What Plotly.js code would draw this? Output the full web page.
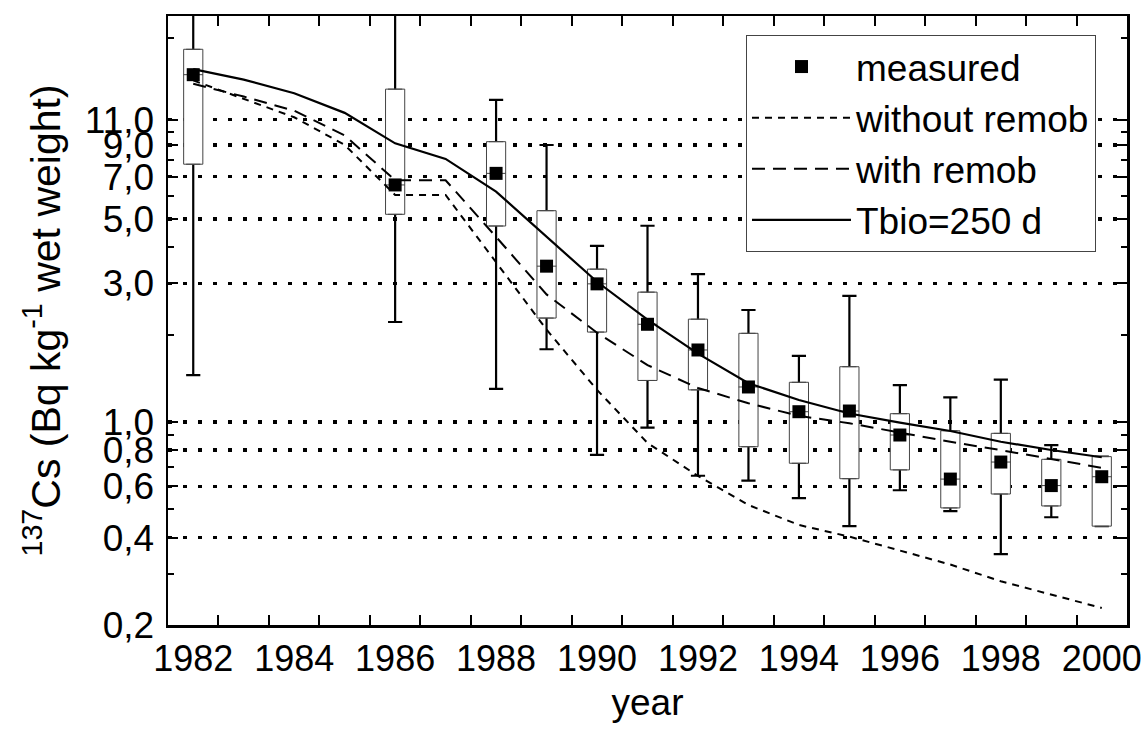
<!DOCTYPE html>
<html>
<head>
<meta charset="utf-8">
<script src="https://cdn.plot.ly/plotly-3.0.1.min.js"></script>
<style>html,body{margin:0;padding:0;background:#fff}</style>
</head>
<body>
<div id="chart" style="width:1146px;height:733px"></div>
<script>
// Sampling years with box statistics
const boxYears = [1982, 1986, 1988, 1989, 1990, 1991, 1992, 1993, 1994, 1995, 1996, 1997, 1998, 1999, 2000];
// measured value (square marker)
const measured = [15.7, 6.55, 7.18, 3.44, 2.99, 2.17, 1.77, 1.32, 1.085, 1.091, 0.902, 0.636, 0.728, 0.604, 0.648];
const boxUpper = [19.2, 14.0, 9.23, 5.34, 3.36, 2.80, 2.26, 2.02, 1.37, 1.55, 1.068, 0.933, 0.914, 0.744, 0.76];
const boxLower = [7.72, 5.19, 4.73, 2.28, 2.04, 1.39, 1.29, 0.822, 0.721, 0.638, 0.684, 0.506, 0.565, 0.514, 0.438];
const whiskerHigh = [32, 30, 12.85, 8.99, 4.04, 4.74, 3.23, 2.43, 1.69, 2.72, 1.34, 1.216, 1.40, 0.833, 0.76];
const whiskerLow = [1.45, 2.21, 1.30, 1.78, 0.77, 0.956, 0.653, 0.628, 0.547, 0.438, 0.582, 0.493, 0.351, 0.470, 0.438];

// Model curves, one value per year
const modelYears = [1982, 1983, 1984, 1985, 1986, 1987, 1988, 1989, 1990, 1991, 1992, 1993, 1994, 1995, 1996, 1997, 1998, 1999, 2000];
const withoutRemob = [15.0, 13.0, 11.2, 9.0, 6.05, 6.05, 3.56, 2.08, 1.29, 0.847, 0.652, 0.518, 0.442, 0.403, 0.361, 0.323, 0.283, 0.255, 0.229];
const withRemob = [14.6, 13.2, 11.8, 9.7, 6.8, 6.8, 4.34, 2.75, 2.03, 1.57, 1.31, 1.16, 1.05, 0.99, 0.92, 0.855, 0.80, 0.745, 0.695];
const tbio250 = [16.4, 15.1, 13.55, 11.6, 9.11, 8.05, 6.21, 4.35, 3.04, 2.25, 1.72, 1.36, 1.19, 1.07, 0.995, 0.931, 0.855, 0.801, 0.756];

// Axis ticks
const xLabelYears = [1982, 1984, 1986, 1988, 1990, 1992, 1994, 1996, 1998, 2000];
const xTickMarks = [1982.5, 1983.5, 1984.5, 1985.5, 1986.5, 1987.5, 1988.5, 1989.5, 1990.5, 1991.5, 1992.5, 1993.5, 1994.5, 1995.5, 1996.5, 1997.5, 1998.5, 1999.5];
const yTickVals = [0.2, 0.4, 0.6, 0.8, 1.0, 3, 5, 7, 9, 11];
const yTickText = ['0,2', '0,4', '0,6', '0,8', '1,0', '3,0', '5,0', '7,0', '9,0', '11,0'];
const yMinorVals = [0.3, 0.5, 0.7, 0.9, 2, 4, 6, 8, 10, 21];

const traces = [
  // whiskers: heavy black range from the measured value out to the extremes
  {
    type: 'box',
    x: boxYears,
    q1: measured,
    median: measured,
    q3: measured,
    lowerfence: whiskerLow,
    upperfence: whiskerHigh,
    width: 0.38,
    whiskerwidth: 0.74,
    fillcolor: 'rgba(0,0,0,0)',
    line: {color: '#000', width: 2.2},
    boxpoints: false,
    showlegend: false,
    hoverinfo: 'skip'
  },
  // boxes: white, thin grey outline, drawn over the inner whisker part
  {
    type: 'box',
    x: boxYears,
    q1: boxLower,
    median: measured,
    q3: boxUpper,
    lowerfence: boxLower,
    upperfence: boxUpper,
    width: 0.38,
    whiskerwidth: 0.74,
    fillcolor: '#ffffff',
    line: {color: '#444', width: 1},
    boxpoints: false,
    showlegend: false,
    hoverinfo: 'skip'
  },
  {
    type: 'scatter', mode: 'lines', name: 'without remob',
    x: modelYears, y: withoutRemob,
    line: {color: '#000', width: 2, dash: '7px,6px'},
    legendrank: 2
  },
  {
    type: 'scatter', mode: 'lines', name: 'with remob',
    x: modelYears, y: withRemob,
    line: {color: '#000', width: 2, dash: '13px,8px'},
    legendrank: 3
  },
  {
    type: 'scatter', mode: 'lines', name: 'Tbio=250 d',
    x: modelYears, y: tbio250,
    line: {color: '#000', width: 2.2},
    legendrank: 4
  },
  {
    type: 'scatter', mode: 'markers', name: 'measured',
    x: boxYears, y: measured,
    marker: {symbol: 'square', size: 13, color: '#000'},
    legendrank: 1
  }
];

const layout = {
  width: 1146,
  height: 733,
  margin: {l: 168, r: 19, t: 16, b: 108, pad: 0},
  paper_bgcolor: '#ffffff',
  plot_bgcolor: '#ffffff',
  font: {family: 'Liberation Sans, Arial, sans-serif', size: 36, color: '#000'},
  showlegend: true,
  boxmode: 'overlay',
  legend: {
    x: 0.6027, y: 0.9688, xanchor: 'left', yanchor: 'top',
    bgcolor: '#ffffff', bordercolor: '#444', borderwidth: 1,
    font: {size: 37, color: '#000'},
    itemwidth: 99,
    tracegroupgap: 0
  },
  xaxis: {
    range: [1981.5, 2000.5],
    tickmode: 'array',
    tickvals: xLabelYears,
    ticktext: xLabelYears.map(String),
    ticks: '',
    tickfont: {size: 36},
    showgrid: false,
    zeroline: false,
    showline: true,
    linecolor: '#000',
    linewidth: 2.5,
    mirror: 'ticks',
    minor: {tickvals: xTickMarks, ticks: 'inside', ticklen: 10, tickwidth: 2, tickcolor: '#000', showgrid: false},
    title: {text: 'year', font: {size: 37}, standoff: 12}
  },
  yaxis: {
    type: 'log',
    range: [Math.log10(0.2), Math.log10(25)],
    tickmode: 'array',
    tickvals: yTickVals,
    ticktext: yTickText,
    ticks: 'inside',
    ticklen: 10,
    tickwidth: 2,
    tickcolor: '#000',
    tickfont: {size: 37},
    ticklabelstandoff: 4,
    showgrid: true,
    gridcolor: '#000',
    gridwidth: 3.5,
    griddash: '3.5px,11.5px',
    zeroline: false,
    showline: true,
    linecolor: '#000',
    linewidth: 2.5,
    mirror: 'ticks',
    minor: {tickvals: yMinorVals, ticks: 'inside', ticklen: 6, tickwidth: 2, tickcolor: '#000', showgrid: false},
    title: {text: '<sup>137</sup>Cs (Bq kg<sup>-1</sup> wet weight)', font: {size: 41}, standoff: 12}
  }
};

Plotly.newPlot('chart', traces, layout, {displayModeBar: false, staticPlot: true});
</script>
</body>
</html>
